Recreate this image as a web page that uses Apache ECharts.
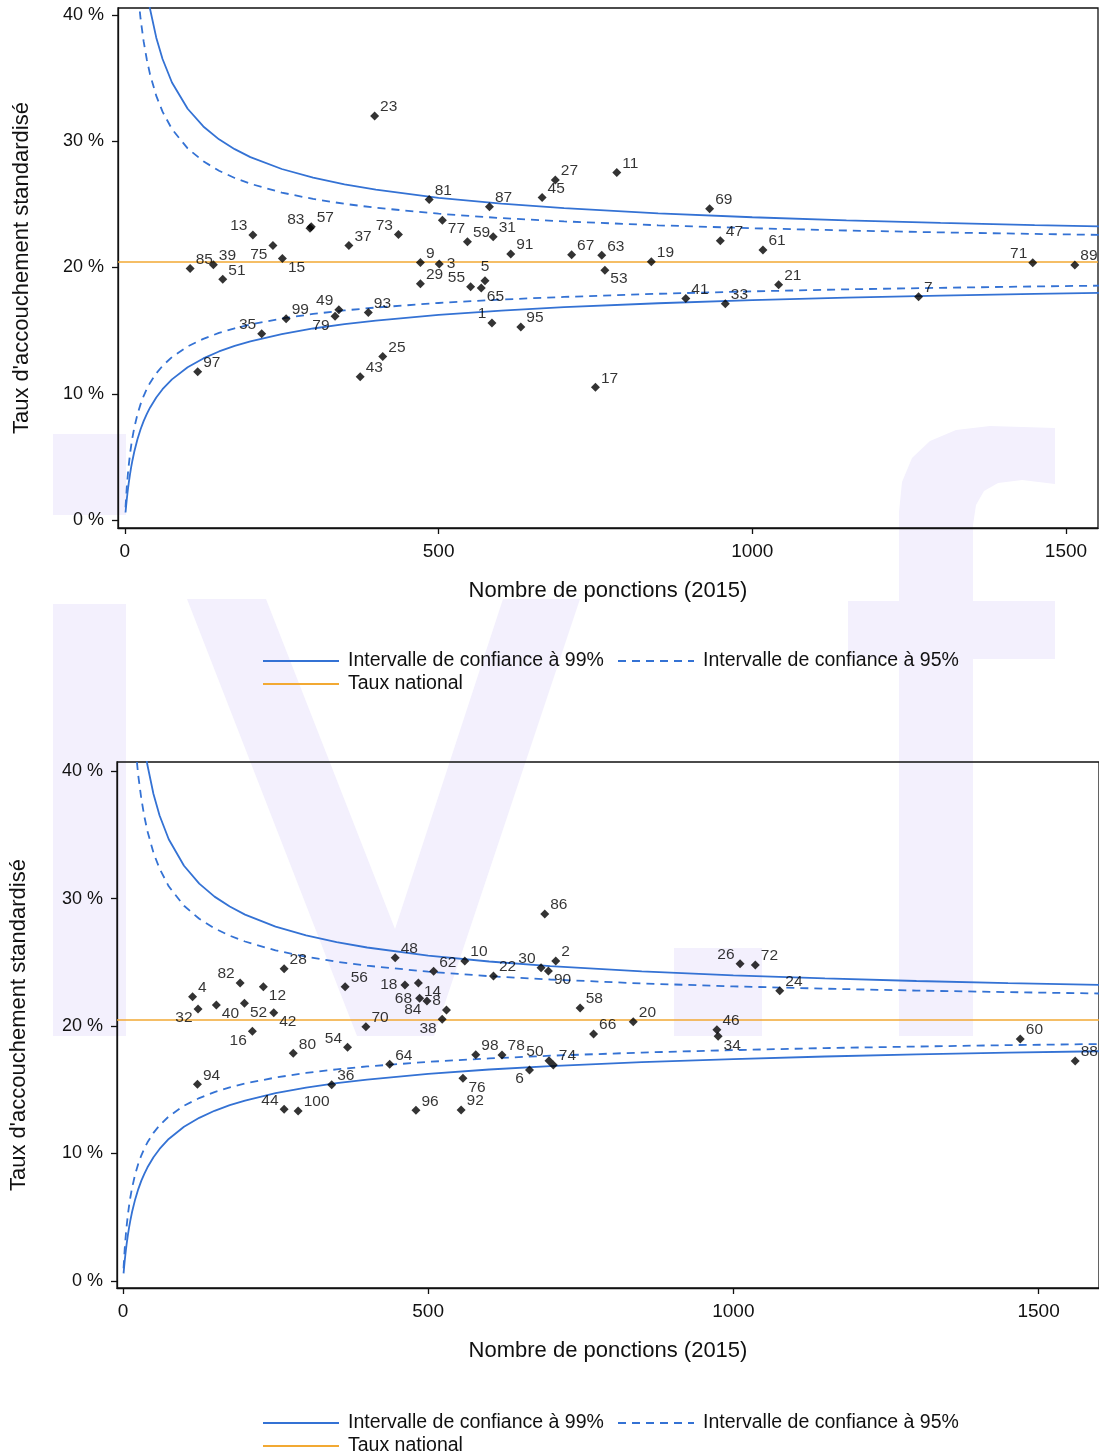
<!DOCTYPE html>
<html><head><meta charset="utf-8">
<script src="https://cdn.jsdelivr.net/npm/echarts@6/dist/echarts.min.js"></script>
<style>html,body{margin:0;padding:0;background:#fff}#c{width:1099px;height:1452px}</style>
</head><body><div id="c"></div>
<script>
// ---------- data ----------
const nationalRate = 20.47;
const xTicks = [0, 500, 1000, 1500];
const yTicks = [0, 10, 20, 30, 40];
const xTitle = 'Nombre de ponctions (2015)';
const yTitle = "Taux d'accouchement standardisé";
const name99 = 'Intervalle de confiance à 99%';
const name95 = 'Intervalle de confiance à 95%';
const nameNat = 'Taux national';

// confidence limits (percent)
const limitN  = [1, 2, 3, 4, 5, 6, 8, 10, 12, 15, 20, 25, 30, 35, 40, 50, 60, 75, 100, 125, 150, 175, 200, 250, 300, 350, 400, 500, 600, 700, 850, 1000, 1150, 1300, 1450, 1600];
const upper99 = [91.67, 85.19, 79.99, 75.72, 72.14, 69.09, 64.17, 60.35, 57.28, 53.67, 49.30, 46.18, 43.83, 41.99, 40.49, 38.20, 36.51, 34.65, 32.57, 31.17, 30.15, 29.37, 28.74, 27.80, 27.11, 26.58, 26.16, 25.52, 25.06, 24.70, 24.29, 23.98, 23.73, 23.53, 23.36, 23.22];
const lower99 = [0.60, 1.14, 1.64, 2.09, 2.50, 2.89, 3.58, 4.19, 4.72, 5.43, 6.40, 7.19, 7.85, 8.41, 8.90, 9.71, 10.36, 11.14, 12.10, 12.80, 13.35, 13.79, 14.15, 14.73, 15.17, 15.52, 15.80, 16.25, 16.59, 16.86, 17.17, 17.41, 17.61, 17.77, 17.91, 18.02];
const upper95 = [86.81, 77.95, 71.55, 66.69, 62.85, 59.74, 54.98, 51.48, 48.78, 45.71, 42.14, 39.68, 37.86, 36.45, 35.31, 33.59, 32.34, 30.96, 29.43, 28.41, 27.66, 27.09, 26.63, 25.93, 25.43, 25.04, 24.73, 24.26, 23.91, 23.65, 23.34, 23.11, 22.93, 22.78, 22.66, 22.55];
const lower95 = [1.00, 1.85, 2.58, 3.21, 3.78, 4.29, 5.16, 5.90, 6.53, 7.32, 8.37, 9.18, 9.84, 10.39, 10.86, 11.62, 12.21, 12.91, 13.75, 14.35, 14.82, 15.18, 15.49, 15.96, 16.32, 16.60, 16.83, 17.19, 17.46, 17.67, 17.92, 18.11, 18.27, 18.39, 18.50, 18.59];

// top chart centres
const topIds  = [23, 81, 83, 57, 13, 75, 15, 85, 39, 51, 37, 73, 9, 29, 3, 49, 79, 99, 93, 35, 97, 25, 43, 77, 27, 45, 11, 87, 69, 59, 31, 91, 67, 63, 19, 53, 47, 61, 5, 55, 65, 1, 95, 41, 33, 17, 21, 7, 71, 89];
const topN    = [398, 485, 295, 297, 204, 236, 251, 104, 141, 156, 357, 436, 471, 471, 501, 341, 335, 257, 388, 218, 116, 411, 375, 506, 686, 665, 784, 581, 932, 546, 587, 615, 712, 760, 839, 765, 949, 1017, 574, 551, 568, 585, 631, 894, 957, 750, 1042, 1265, 1447, 1514];
const topRate = [31.99, 25.39, 23.10, 23.22, 22.57, 21.75, 20.72, 19.93, 20.22, 19.06, 21.75, 22.62, 20.40, 18.71, 20.27, 16.65, 16.13, 15.94, 16.44, 14.75, 11.74, 12.96, 11.35, 23.75, 26.92, 25.55, 27.53, 24.81, 24.65, 22.04, 22.43, 21.06, 21.01, 20.96, 20.45, 19.79, 22.12, 21.38, 18.95, 18.47, 18.37, 15.60, 15.28, 17.55, 17.13, 10.51, 18.63, 17.68, 20.37, 20.19];

// bottom chart centres
const botIds  = [48, 28, 82, 4, 12, 56, 18, 14, 68, 84, 8, 32, 40, 52, 42, 16, 70, 38, 80, 54, 64, 94, 36, 44, 100, 96, 86, 62, 10, 22, 30, 90, 2, 58, 66, 20, 46, 34, 98, 78, 50, 74, 6, 76, 92, 26, 72, 24, 60, 88];
const botN    = [446, 264, 192, 114, 230, 364, 462, 484, 486, 498, 530, 123, 153, 199, 247, 212, 398, 523, 279, 368, 437, 122, 342, 264, 287, 480, 691, 509, 560, 607, 685, 697, 709, 749, 771, 836, 973, 975, 578, 621, 698, 705, 666, 557, 554, 1011, 1036, 1076, 1470, 1560];
const botRate = [25.36, 24.50, 23.37, 22.30, 23.08, 23.08, 23.22, 23.37, 22.17, 21.96, 21.25, 21.33, 21.65, 21.78, 21.05, 19.58, 19.95, 20.53, 17.86, 18.33, 17.00, 15.43, 15.40, 13.47, 13.33, 13.39, 28.78, 24.29, 25.10, 23.92, 24.57, 24.31, 25.10, 21.41, 19.37, 20.34, 19.71, 19.19, 17.75, 17.73, 17.28, 16.94, 16.55, 15.90, 13.41, 24.89, 24.78, 22.77, 18.98, 17.25];

// ---------- styling (kept apart from data) ----------
const topLabelPos = {83:'tl',13:'tl',73:'tl',49:'tl',35:'tl',55:'tl',1:'tl',71:'tl',75:'bl',79:'bl',15:'br',77:'br',65:'br',53:'br',3:'r',5:'t'};
const botLabelPos = {82:'tl',54:'tl',44:'tl',30:'tl',50:'tl',26:'tl',8:'tl',32:'bl',16:'bl',84:'bl',38:'bl',6:'bl',12:'br',40:'br',52:'br',42:'br',14:'br',90:'br',76:'br',34:'br',18:'l',68:'l'};

const FONT = 'Liberation Sans, Arial, Helvetica, sans-serif';
const BLUE = '#3472d4';
const ORANGE = '#f2a933';
const WM = '#f3f0fd';

function labelCfg(code) {
  switch (code) {
    case 'tl': return {position: 'left', distance: 1, offset: [0, -9]};
    case 'br': return {position: 'right', distance: 1, offset: [0, 9]};
    case 'bl': return {position: 'left', distance: 1, offset: [0, 9]};
    case 'l':  return {position: 'left', distance: 3, offset: [0, 0]};
    case 'r':  return {position: 'right', distance: 3, offset: [0, 0]};
    case 't':  return {position: 'top', distance: 2, offset: [0, 0]};
    default:   return {position: 'right', distance: 1, offset: [0, -9]};
  }
}
function pts(ids, ns, rates, posMap) {
  return ids.map((id, i) => ({
    name: String(id),
    value: [ns[i], rates[i]],
    label: labelCfg(posMap[id])
  }));
}
const zip = (xs, ys) => xs.map((x, i) => [x, ys[i]]);

function curveSeries(ax) {
  const base = {type: 'line', xAxisIndex: ax, yAxisIndex: ax, symbol: 'none', showSymbol: false,
    smooth: false, clip: true, silent: true, z: 3};
  const solid = {color: BLUE, width: 1.8, type: 'solid'};
  const dash = {color: BLUE, width: 1.8, type: [8, 6]};
  return [
    Object.assign({}, base, {name: name99, data: zip(limitN, upper99), lineStyle: solid, itemStyle: {color: BLUE}}),
    Object.assign({}, base, {name: name99, data: zip(limitN, lower99), lineStyle: solid, itemStyle: {color: BLUE}}),
    Object.assign({}, base, {name: name95, data: zip(limitN, upper95), lineStyle: dash, itemStyle: {color: BLUE}}),
    Object.assign({}, base, {name: name95, data: zip(limitN, lower95), lineStyle: dash, itemStyle: {color: BLUE}}),
    {type: 'line', name: nameNat, xAxisIndex: ax, yAxisIndex: ax, data: [], symbol: 'none',
      lineStyle: {color: ORANGE, width: 1.7}, itemStyle: {color: ORANGE}, z: 2,
      markLine: {silent: true, symbol: ['none', 'none'], label: {show: false},
        lineStyle: {color: ORANGE, width: 1.7, type: 'solid'}, data: [{yAxis: nationalRate}]}}
  ];
}
function scatterSeries(ax, data) {
  return {type: 'scatter', xAxisIndex: ax, yAxisIndex: ax, data: data, symbol: 'diamond', symbolSize: 9,
    itemStyle: {color: '#000'}, z: 5,
    label: {show: true, formatter: p => p.name, color: '#000', fontSize: 15.5, fontFamily: FONT}};
}
function xAxisCfg(grid, min, max) {
  return {type: 'value', gridIndex: grid, min: min, max: max,
    name: xTitle, nameLocation: 'middle', nameGap: 52,
    nameTextStyle: {fontSize: 22, color: '#111', fontFamily: FONT},
    axisLine: {show: true, onZero: false, lineStyle: {color: '#111', width: 1.3}},
    axisTick: {show: true, length: 6, lineStyle: {color: '#111', width: 1.3}, customValues: xTicks},
    axisLabel: {fontSize: 19, color: '#111', fontFamily: FONT, margin: 14, formatter: v => String(v), customValues: xTicks},
    splitLine: {show: false}};
}
function yAxisCfg(grid, min, max, gap) {
  return {type: 'value', gridIndex: grid, min: min, max: max,
    name: yTitle, nameLocation: 'middle', nameGap: gap, nameRotate: 90,
    nameTextStyle: {fontSize: 22, color: '#111', fontFamily: FONT},
    axisLine: {show: true, onZero: false, lineStyle: {color: '#111', width: 1.3}},
    axisTick: {show: true, length: 6, lineStyle: {color: '#111', width: 1.3}, customValues: yTicks},
    axisLabel: {fontSize: 18, color: '#111', fontFamily: FONT, margin: 14, formatter: v => v + ' %', customValues: yTicks},
    splitLine: {show: false}};
}
function legendCfg(name, left, top) {
  return {data: [name], left: left, top: top, itemWidth: 76, itemHeight: 14, itemGap: 0,
    selectedMode: false, padding: 0,
    itemStyle: {opacity: 0},
    textStyle: {fontSize: 19.5, color: '#111', fontFamily: FONT, padding: [0, 0, 0, 4]}};
}

// watermark "ivf" behind the charts
const fHook = [[899,1036],[899,512],[902,482],[912,458],[930,441],[956,430],[990,426],[1055,428],[1055,484],[1022,480],[998,483],[984,491],[976,505],[973,525],[973,1036]];
const watermark = [
  {type: 'rect', shape: {x: 53, y: 434, width: 73, height: 81}},
  {type: 'rect', shape: {x: 53, y: 604, width: 73, height: 432}},
  {type: 'polygon', shape: {points: [[187,599],[266,599],[395,929],[503,599],[580,599],[434,1036],[357,1036]]}},
  {type: 'rect', shape: {x: 674, y: 948, width: 88, height: 88}},
  {type: 'polygon', shape: {points: fHook}},
  {type: 'rect', shape: {x: 848, y: 601, width: 207, height: 58}}
].map(e => Object.assign(e, {style: {fill: WM}, z: -100, silent: true}));

const chart = echarts.init(document.getElementById('c'), null, {renderer: 'canvas'});
chart.setOption({
  animation: false,
  backgroundColor: '#fff',
  textStyle: {fontFamily: FONT},
  graphic: {elements: watermark},
  grid: [
    {left: 118, top: 8, right: 1, bottom: 924, show: true, borderColor: '#111', borderWidth: 1.3, backgroundColor: 'transparent'},
    {left: 115, top: 762, right: -6, bottom: 164, show: true, borderColor: '#111', borderWidth: 1.3, backgroundColor: 'transparent'}
  ],
  xAxis: [xAxisCfg(0, -11, 1551), xAxisCfg(1, -9.75, 1599)],
  yAxis: [yAxisCfg(0, -0.63, 40.55, 85), yAxisCfg(1, -0.55, 40.71, 87)],
  legend: [
    legendCfg(name99, 262, 651), legendCfg(name95, 617, 651), legendCfg(nameNat, 262, 674),
    legendCfg(name99, 262, 1413), legendCfg(name95, 617, 1413), legendCfg(nameNat, 262, 1436)
  ],
  series: [].concat(
    curveSeries(0),
    [scatterSeries(0, pts(topIds, topN, topRate, topLabelPos))],
    curveSeries(1),
    [scatterSeries(1, pts(botIds, botN, botRate, botLabelPos))]
  )
});
</script>
</body></html>
